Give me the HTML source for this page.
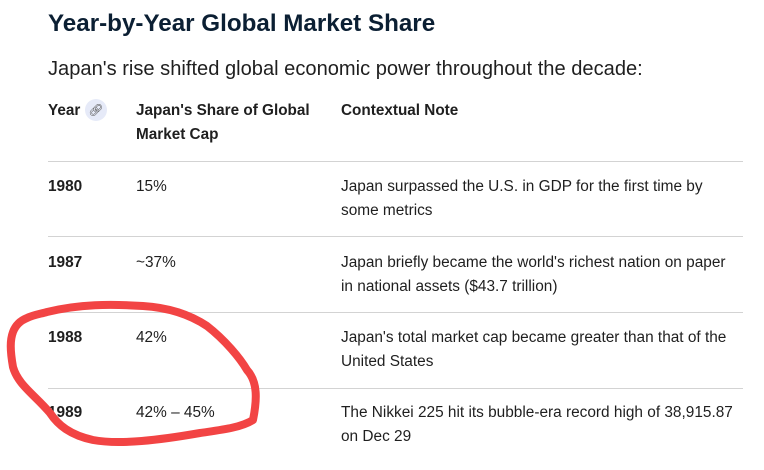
<!DOCTYPE html>
<html><head><meta charset="utf-8"><style>
body{margin:0;width:764px;height:470px;background:#fff;position:relative;overflow:hidden;font-family:"Liberation Sans",sans-serif;color:#1f1f1f}
.a{position:absolute;white-space:nowrap}
.t{font-size:24.2px;font-weight:bold;color:#0b1f33;left:48px;top:10px}
.s{font-size:20.1px;left:48px;top:58px}
.h{font-size:15.3px;font-weight:bold;line-height:24px}
.c{font-size:15.4px;line-height:24px}
.b{font-weight:bold}
.l{position:absolute;left:48px;width:695px;height:1px;background:#d3d3d3}
</style></head><body>
<div class="a t">Year-by-Year Global Market Share</div>
<div class="a s">Japan's rise shifted global economic power throughout the decade:</div>
<div class="a h" style="left:48px;top:99px">Year</div>
<div class="a" style="left:85px;top:99px;width:22px;height:22px;border-radius:50%;background:#e6eaf8;font-size:12px;line-height:22px;text-align:center;color:#555">&#x1F517;&#xFE0E;</div>
<div class="a h" style="left:136px;top:99px">Japan's Share of Global<br>Market Cap</div>
<div class="a h" style="left:341px;top:99px">Contextual Note</div>
<div class="l" style="top:161px"></div>
<div class="a c b" style="left:48px;top:175px">1980</div>
<div class="a c" style="left:136px;top:175px">15%</div>
<div class="a c" style="left:341px;top:175px">Japan surpassed the U.S. in GDP for the first time by<br>some metrics</div>
<div class="l" style="top:236px"></div>
<div class="a c b" style="left:48px;top:251px">1987</div>
<div class="a c" style="left:136px;top:251px">~37%</div>
<div class="a c" style="left:341px;top:251px">Japan briefly became the world's richest nation on paper<br>in national assets ($43.7 trillion)</div>
<div class="l" style="top:312px"></div>
<div class="a c b" style="left:48px;top:326px">1988</div>
<div class="a c" style="left:136px;top:326px">42%</div>
<div class="a c" style="left:341px;top:326px">Japan's total market cap became greater than that of the<br>United States</div>
<div class="l" style="top:388px"></div>
<div class="a c b" style="left:48px;top:401px">1989</div>
<div class="a c" style="left:136px;top:401px">42% – 45%</div>
<div class="a c" style="left:341px;top:401px">The Nikkei 225 hit its bubble-era record high of 38,915.87<br>on Dec 29</div>
<svg class="a" style="left:0;top:0" width="764" height="470"><path d="M47,312 C80,304 110,304 143,306 C175,308 195,318 207,326 C225,340 240,358 247,370 C258,382 257,400 253,420 C240,428 220,430 200,433 C160,440 120,445 93,440 C70,435 58,425 50,413 C35,395 18,385 13,367 C10,350 10,340 13,332 C16,324 22,320 27,318 C33,315 40,314 47,312" fill="none" stroke="#f24444" stroke-width="8" stroke-linecap="round" stroke-linejoin="round"/></svg>
</body></html>
